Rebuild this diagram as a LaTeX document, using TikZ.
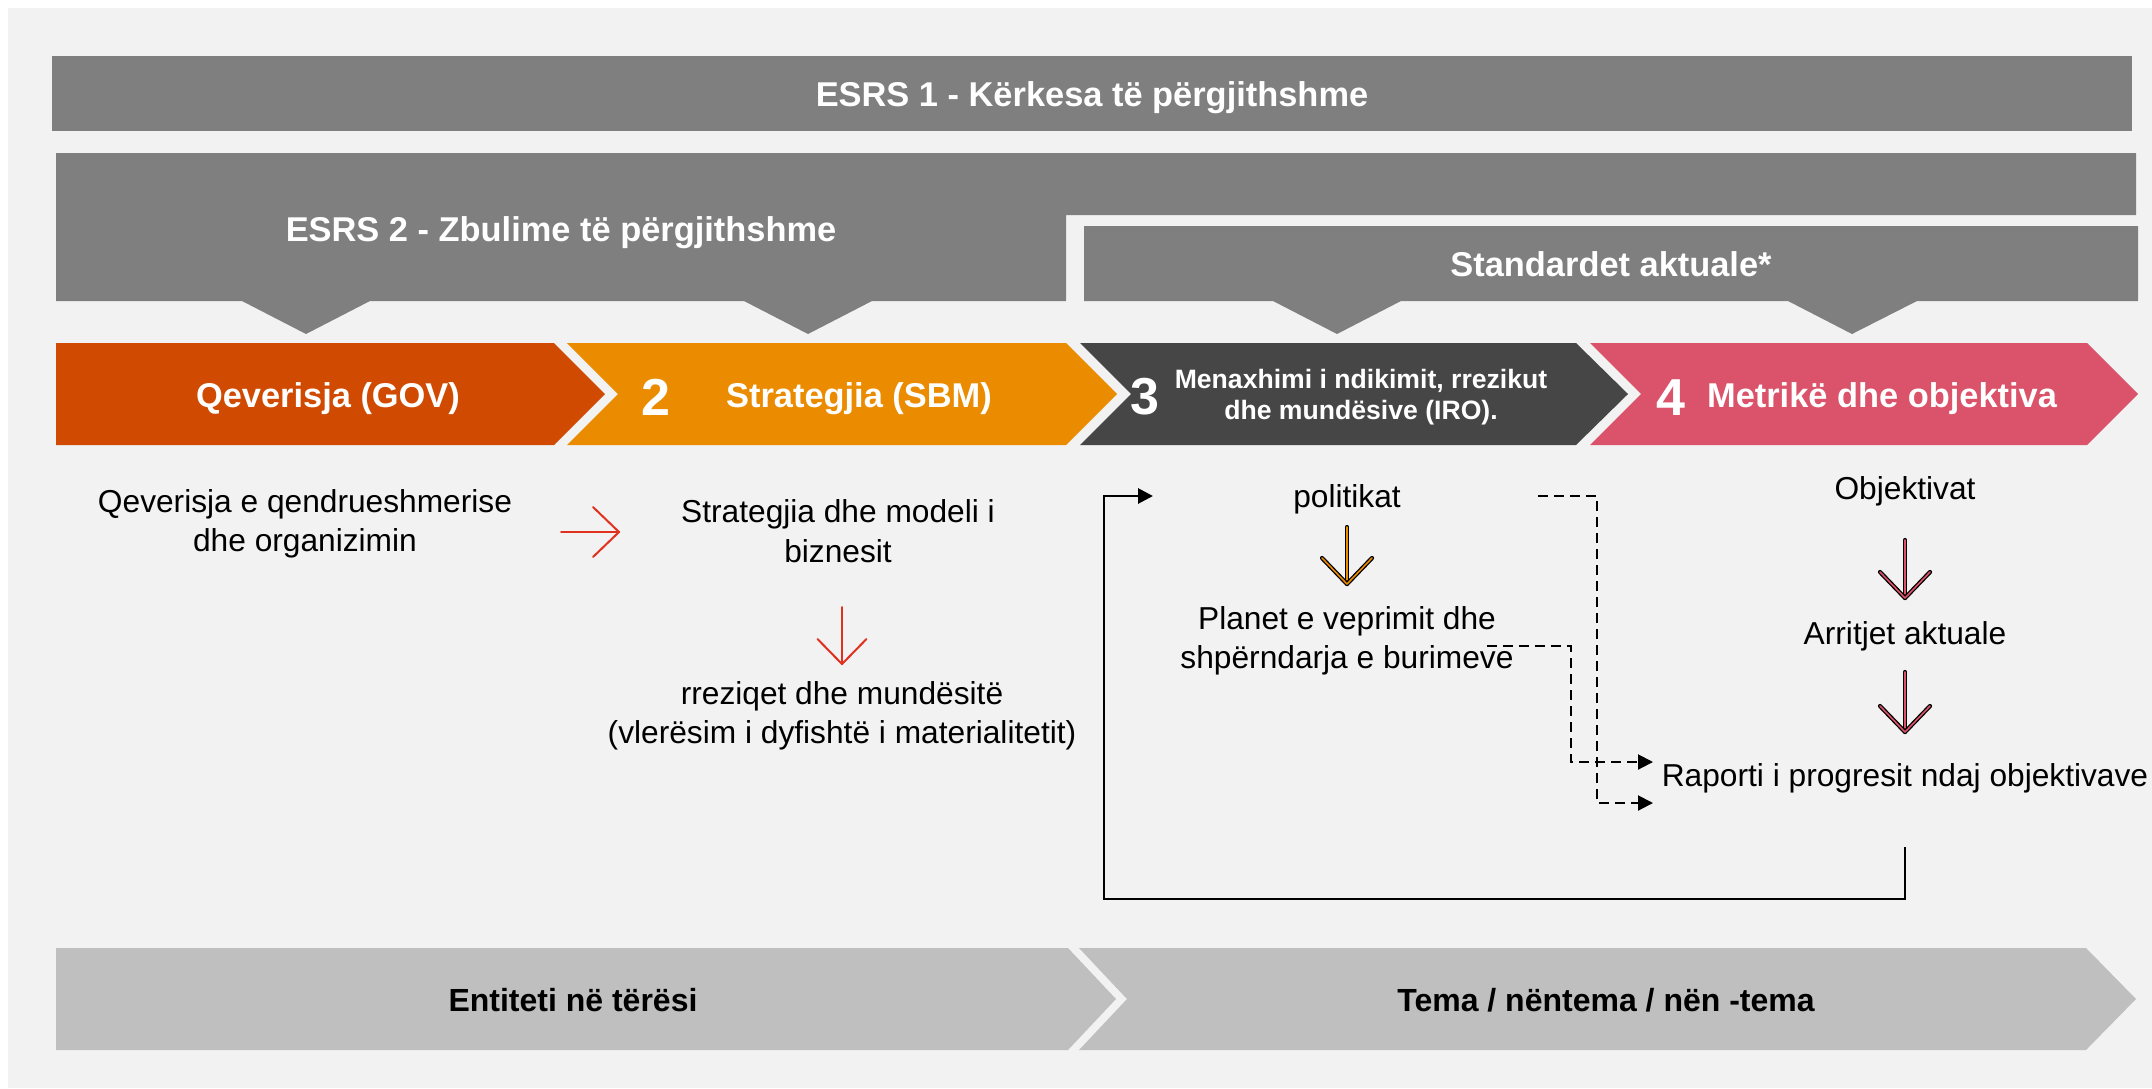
\documentclass[tikz,border=0pt]{standalone}
\usepackage{fontspec}
\setmainfont{Liberation Sans}
\usetikzlibrary{arrows.meta,calc}
\definecolor{bgc}{HTML}{F2F2F2}
\definecolor{hdrgray}{HTML}{7F7F7F}
\definecolor{cgov}{HTML}{D04A02}
\definecolor{csbm}{HTML}{EB8C00}
\definecolor{ciro}{HTML}{464646}
\definecolor{cmet}{HTML}{DB536A}
\definecolor{clight}{HTML}{BFBFBF}
\definecolor{arrred}{HTML}{E0301E}
\begin{document}
\begin{tikzpicture}[x=0.5pt,y=-0.5pt,
  hdr/.style={text=white,font=\bfseries\fontsize{17.2}{20}\selectfont,inner sep=0pt,anchor=base},
  numtxt/.style={text=white,font=\bfseries\fontsize{26}{30}\selectfont,inner sep=0pt,anchor=base},
  irotxt/.style={text=white,font=\bfseries\fontsize{13.3}{15.5}\selectfont,align=center,inner sep=0pt},
  bodytxt/.style={text=black,font=\fontsize{15.85}{19.7}\selectfont,align=center,inner sep=0pt},
  bottxt/.style={text=black,font=\bfseries\fontsize{16}{19}\selectfont,inner sep=0pt,anchor=base},
  redline/.style={draw=arrred,line width=1pt,line cap=round,line join=round},
  dblline/.style={draw=black,line width=0.65pt,double=#1,double distance=0.8pt,line cap=round,line join=round},
  dashconn/.style={draw=black,line width=1pt,dash pattern=on 5pt off 3pt,-{Triangle[length=7.5pt,width=7.5pt]}},
  fbconn/.style={draw=black,line width=1.4pt,-{Triangle[length=7.5pt,width=7.5pt]}}
]
\useasboundingbox (0,0) rectangle (2152,1088);
\fill[white] (0,0) rectangle (2152,1088);
\fill[bgc] (8,8) rectangle (2152,1088);

% ESRS 1 bar
\fill[hdrgray] (52,56) rectangle (2132,131);
\node[hdr] (esrs1) at (1092,106) {ESRS 1 - Kërkesa të përgjithshme};

% ESRS 2 L-shape with pointers
\fill[hdrgray] (56,153) -- (2136,153) -- (2136,215) -- (1066,215) -- (1066,301)
  -- (872,301) -- (808,334) -- (744,301) -- (370,301) -- (306,334) -- (242,301)
  -- (56,301) -- cycle;
\node[hdr] (esrs2) at (561,241) {ESRS 2 - Zbulime të përgjithshme};

% Standardet aktuale box with pointers
\fill[hdrgray] (1084,226) -- (2138,226) -- (2138,301) -- (1917,301) -- (1852,334)
  -- (1788,301) -- (1401,301) -- (1337,334) -- (1273,301) -- (1084,301) -- cycle;
\node[hdr] (std) at (1611,276) {Standardet aktuale*};

% Chevrons row
\fill[cgov] (56,343) -- (554,343) -- (605,394) -- (554,445) -- (56,445) -- cycle;
\fill[csbm] (567,343) -- (1066,343) -- (1117,394) -- (1066,445) -- (567,445) -- (618,394) -- cycle;
\fill[ciro] (1080,343) -- (1576,343) -- (1628,394) -- (1576,445) -- (1080,445) -- (1131,394) -- cycle;
\fill[cmet] (1590,343) -- (2087,343) -- (2138,394) -- (2087,445) -- (1590,445) -- (1641,394) -- cycle;

\node[hdr] (gov) at (328,407) {Qeverisja (GOV)};
\node[numtxt] (n2) at (656,415) {2};
\node[hdr] (sbm) at (859,407) {Strategjia (SBM)};
\node[numtxt] (n3) at (1145,414) {3};
\node[irotxt] (iro) at (1361,397) {Menaxhimi i ndikimit, rrezikut\\dhe mundësive (IRO).};
\node[numtxt] (n4) at (1671,415) {4};
\node[hdr] (met) at (1882,407) {Metrikë dhe objektiva};

% Body texts
\node[bodytxt] (q1) at (305,524) {Qeverisja e qendrueshmerise\\dhe organizimin};
\node[bodytxt] (s1) at (838,531) {Strategjia dhe modeli i\\biznesit};
\node[bodytxt] (r1) at (842,716) {rreziqet dhe mundësitë\\(vlerësim i dyfishtë i materialitetit)};
\node[bodytxt] (pol) at (1347,499) {politikat};
\node[bodytxt] (plan) at (1347,641) {Planet e veprimit dhe\\shpërndarja e burimeve};
\node[bodytxt] (obj) at (1905,491) {Objektivat};
\node[bodytxt] (arr) at (1905,636) {Arritjet aktuale};
\node[bodytxt] (rap) at (1905,778) {Raporti i progresit ndaj objektivave};

% Red arrows
\draw[redline] ($(q1.center)+(256,8)$) -- ($(s1.center)+(-219,1)$);
\draw[redline] ($(s1.center)+(-245,-24)$) -- ($(s1.center)+(-219,1)$) -- ($(s1.center)+(-245,26)$);
\draw[redline] ($(s1.center)+(4,76)$) -- ($(r1.center)+(0,-52)$);
\draw[redline] ($(r1.center)+(-24.5,-77)$) -- ($(r1.center)+(0,-52)$) -- ($(r1.center)+(24.5,-77)$);

% Double-line arrows
\draw[dblline=csbm] ($(pol.center)+(0,28)$) -- ($(plan.center)+(0,-57)$);
\draw[dblline=csbm] ($(plan.center)+(-25,-83)$) -- ($(plan.center)+(0,-57)$) -- ($(plan.center)+(25,-83)$);
\draw[dblline=cmet] ($(obj.center)+(0,49)$) -- ($(arr.center)+(0,-38)$);
\draw[dblline=cmet] ($(arr.center)+(-25,-64)$) -- ($(arr.center)+(0,-38)$) -- ($(arr.center)+(25,-64)$);
\draw[dblline=cmet] ($(arr.center)+(0,36)$) -- ($(rap.center)+(0,-46)$);
\draw[dblline=cmet] ($(rap.center)+(-25,-72)$) -- ($(rap.center)+(0,-46)$) -- ($(rap.center)+(25,-72)$);

% Dashed connectors
\draw[dashconn] ($(pol.center)+(191,-3)$) -| ($(rap.center)+(-308,25)$) -- ($(rap.center)+(-252,25)$);
\draw[dashconn] ($(plan.center)+(140,5)$) -| ($(rap.center)+(-334,-16)$) -- ($(rap.center)+(-252,-16)$);

% Feedback connector
\draw[fbconn] ($(rap.center)+(0,69)$) -- ($(rap.center)+(0,121)$) -| ($(pol.center)+(-243,-3)$) -- ($(pol.center)+(-194,-3)$);

% Bottom chevrons
\fill[clight] (56,948) -- (1068,948) -- (1116,999) -- (1068,1050) -- (56,1050) -- cycle;
\fill[clight] (1079,948) -- (2086,948) -- (2136,999) -- (2086,1050) -- (1079,1050) -- (1127,999) -- cycle;
\node[bottxt] (ent) at (573,1011) {Entiteti në tërësi};
\node[bottxt] (tema) at (1606,1011) {Tema / nëntema / nën -tema};
\end{tikzpicture}
\end{document}
